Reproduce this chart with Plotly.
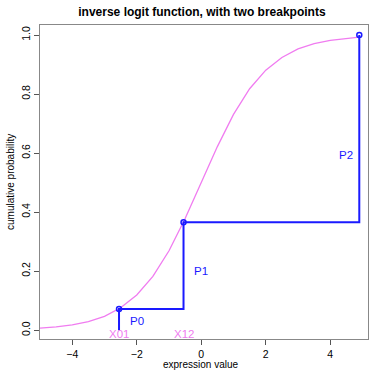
import plotly.graph_objects as go

# inverse logit curve (x step 0.5)
curve_x = [-5.0, -4.5, -4.0, -3.5, -3.0, -2.5, -2.0, -1.5, -1.0, -0.5, 0.0,
           0.5, 1.0, 1.5, 2.0, 2.5, 3.0, 3.5, 4.0, 4.5, 4.9]
curve_y = [0.007, 0.011, 0.018, 0.029, 0.047, 0.076, 0.119, 0.182, 0.269, 0.378, 0.500,
           0.622, 0.731, 0.818, 0.881, 0.924, 0.953, 0.971, 0.982, 0.989, 0.993]

# breakpoints
bp_x = [-2.55, -0.55, 4.9]
bp_y = [0.072, 0.366, 1.0]
bp_names = ["X01", "X12"]
p_labels = ["P0", "P1", "P2"]

BLUE = "#1a1aff"
VIOLET = "#f07cf0"

fig = go.Figure()
fig.add_trace(go.Scatter(x=curve_x, y=curve_y, mode="lines",
                         line=dict(color=VIOLET, width=1.3), hoverinfo="skip"))

# step lines
step_x = [bp_x[0], bp_x[0], bp_x[1], bp_x[1], bp_x[2], bp_x[2]]
step_y = [0.0, bp_y[0], bp_y[0], bp_y[1], bp_y[1], bp_y[2]]
fig.add_trace(go.Scatter(x=step_x, y=step_y, mode="lines",
                         line=dict(color=BLUE, width=2)))
fig.add_trace(go.Scatter(x=bp_x, y=bp_y, mode="markers", cliponaxis=False,
                         marker=dict(symbol="circle-open", size=5, color=BLUE,
                                     line=dict(width=1.5, color=BLUE))))

# P labels
p_pos = [(-1.99, 0.03), (0.0, 0.2), (4.5, 0.593)]
for lab, (px, py) in zip(p_labels, p_pos):
    fig.add_annotation(x=px, y=py, text=lab, showarrow=False,
                       font=dict(color=BLUE, size=11.5, family="Liberation Sans"))
# X labels
for lab, bx in zip(bp_names, bp_x[:2]):
    fig.add_annotation(x=bx, y=-0.014, text=lab, showarrow=False,
                       font=dict(color=VIOLET, size=11.5, family="Liberation Sans"))

# axis titles
fig.add_annotation(xref="paper", yref="paper", x=0.49, xanchor="center", y=0.0,
                   yshift=-18, yanchor="top",
                   text="expression value", showarrow=False,
                   font=dict(size=10, color="black"))
fig.add_annotation(xref="paper", yref="paper", x=0, xshift=-30, xanchor="center",
                   y=0.5, yanchor="middle",
                   text="cumulative probability", showarrow=False, textangle=-90,
                   font=dict(size=10, color="black"))

fig.update_layout(
    width=374, height=375,
    margin=dict(l=40, r=6, t=25, b=36, autoexpand=False),
    paper_bgcolor="white", plot_bgcolor="white",
    showlegend=False,
    font=dict(family="Liberation Sans", size=10.5, color="black"),
    title=dict(text="<b>inverse logit function, with two breakpoints</b>",
               x=0.54, xanchor="center", y=0.968, yanchor="middle",
               font=dict(size=12, color="black")),
    xaxis=dict(range=[-5.0, 5.17], tickvals=[-4, -2, 0, 2, 4],
               ticks="outside", ticklen=5, tickcolor="#555", automargin=False,
               showline=True, linecolor="#888", mirror=True, linewidth=1,
               showgrid=False, zeroline=False),
    yaxis=dict(range=[-0.03, 1.034], tickvals=[0, 0.2, 0.4, 0.6, 0.8, 1.0],
               tickformat=".1f", tickangle=-90, automargin=False,
               ticks="outside", ticklen=5, tickcolor="#555",
               showline=True, linecolor="#888", mirror=True, linewidth=1,
               showgrid=False, zeroline=False),
)

fig.write_html("out.html", config={"displayModeBar": False},
               post_script="document.body.style.margin='0';")
